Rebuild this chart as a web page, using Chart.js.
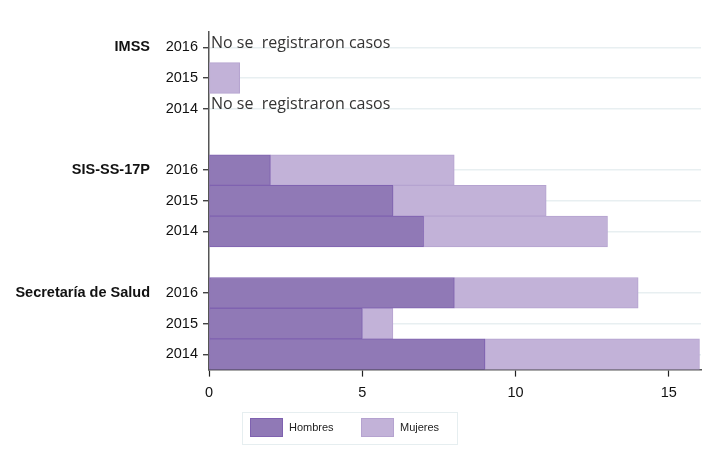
<!DOCTYPE html>
<html lang="es">
<head>
  <meta charset="UTF-8">
  <title>Casos por institución</title>
  <script src="https://cdn.jsdelivr.net/npm/chart.js"></script>
  <style>
    html, body { margin: 0; padding: 0; background: #fff; }
    #wrap { width: 720px; height: 466px; }
  </style>
</head>
<body>
  <div id="wrap"><canvas id="casos"></canvas></div>

  <script>
    // datos (filas de arriba a abajo)
    const yearLabels = ['2016', '2015', '2014', '', '2016', '2015', '2014', '', '2016', '2015', '2014'];
    const groupNames = ['IMSS', 'SIS-SS-17P', 'Secretaría de Salud'];
    const groupRows = [0, 4, 8];
    const hombres = [null, null, null, null, 2, 6, 7, null, 8, 5, 9];
    const mujeres = [null, 1, null, null, 6, 5, 6, null, 6, 1, 7];
    const noDataRows = [0, 2];
    const noDataText = 'No se  registraron casos';
    const seriesNames = ['Hombres', 'Mujeres'];
    const xTicks = [0, 5, 10, 15];

    const colHombres = '#9079b6';
    const colMujeres = '#c2b2d8';
    const font = '"Liberation Sans", Arial, sans-serif';

    // textos extra: nombres de grupo, "no se registraron", leyenda con marco
    const extras = {
      id: 'extras',
      afterDraw(chart) {
        const c = chart.ctx;
        const y = chart.scales.y;
        const x = chart.scales.x;
        c.save();
        c.fillStyle = '#111';
        c.font = 'bold 14.5px ' + font;
        c.textAlign = 'right';
        c.textBaseline = 'middle';
        groupNames.forEach((g, i) => c.fillText(g, 150, y.getPixelForValue(groupRows[i])));

        c.fillStyle = '#333';
        c.font = '16px "Open Sans", sans-serif';
        c.textAlign = 'left';
        noDataRows.forEach(r => c.fillText(noDataText, x.getPixelForValue(0) + 2, y.getPixelForValue(r) - 4));

        // leyenda
        c.strokeStyle = '#e6eef0';
        c.lineWidth = 1;
        c.strokeRect(242.5, 412.5, 215, 32);
        const items = [
          { x: 250, fill: colHombres, stroke: '#7f62b0' },
          { x: 361, fill: colMujeres, stroke: '#b5a3d0' }
        ];
        c.font = '11px ' + font;
        c.textBaseline = 'middle';
        items.forEach((it, i) => {
          c.fillStyle = it.fill;
          c.fillRect(it.x, 418, 33, 19);
          c.strokeStyle = it.stroke;
          c.strokeRect(it.x + 0.5, 418.5, 32, 18);
          c.fillStyle = '#222';
          c.fillText(seriesNames[i], it.x + 39, 428);
        });
        c.restore();
      }
    };

    const hidden = 'rgba(0,0,0,0)';

    new Chart(document.getElementById('casos'), {
      type: 'bar',
      data: {
        labels: yearLabels,
        datasets: [
          { label: seriesNames[0], data: hombres, backgroundColor: colHombres, borderColor: '#7f62b0', borderWidth: 1, borderSkipped: false },
          { label: seriesNames[1], data: mujeres, backgroundColor: colMujeres, borderColor: '#b5a3d0', borderWidth: 1, borderSkipped: false }
        ]
      },
      plugins: [extras],
      options: {
        indexAxis: 'y',
        responsive: true,
        maintainAspectRatio: false,
        animation: false,
        barPercentage: 1,
        categoryPercentage: 1,
        layout: { padding: { top: 32, right: 19, bottom: 56, left: 0 } },
        plugins: { legend: { display: false }, tooltip: { enabled: false } },
        scales: {
          x: {
            stacked: true,
            min: 0,
            max: 16.05,
            afterBuildTicks: s => { s.ticks = xTicks.map(v => ({ value: v })); },
            border: { color: '#555', width: 1.5 },
            grid: { drawOnChartArea: false, tickLength: 7, tickColor: '#222', tickWidth: 1.2 },
            ticks: { color: '#111', font: { size: 14.5, family: font }, padding: 8 }
          },
          y: {
            stacked: true,
            afterFit: s => { s.width = 209; },
            border: { color: '#555', width: 1.5 },
            grid: {
              offset: false,
              lineWidth: 1.5,
              color: ctx => yearLabels[ctx.index] ? '#e8eff1' : hidden,
              tickColor: ctx => yearLabels[ctx.index] ? '#222' : hidden,
              tickLength: 6,
              tickWidth: 1.2
            },
            ticks: { color: '#111', font: { size: 14.5, family: font }, padding: 5 }
          }
        }
      }
    });
  </script>
</body>
</html>
